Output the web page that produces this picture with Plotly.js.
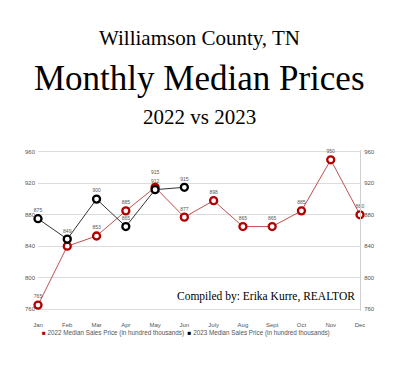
<!DOCTYPE html>
<html>
<head>
<meta charset="utf-8">
<script src="https://cdn.plot.ly/plotly-3.0.1.min.js"></script>
<style>html,body{margin:0;padding:0;background:#fff;}#chart{width:399px;height:371px;}</style>
</head>
<body>
<div id="chart"></div>
<script>
const months = ["Jan","Feb","Mar","Apr","May","Jun","July","Aug","Sept","Oct","Nov","Dec"];
const sales2022 = [765, 840, 853, 885, 915, 877, 898, 865, 865, 885, 950, 880];
const months2023 = ["Jan","Feb","Mar","Apr","May","Jun"];
const sales2023 = [875, 849, 900, 865, 912, 915];
const yTicks = [760, 800, 840, 880, 920, 960];
const legend2022 = "2022 Median Sales Price (in hundred thousands)";
const legend2023 = "2023 Median Sales Price (in hundred thousands)";

const serif = "Liberation Serif, Times New Roman, serif";
const sans = "Liberation Sans, Arial, sans-serif";

// May labels of both years are stacked; lift the 2022 one by an empty line
const text2022 = sales2022.map((v, i) => months[i] === "May" ? String(v) + "<br> " : String(v));

const t2022 = {
  x: months, y: sales2022, type: "scatter", mode: "lines+markers+text",
  text: text2022, textposition: "top center",
  textfont: {family: sans, size: 5, color: "#555"},
  line: {color: "#c0504d", width: 1},
  marker: {symbol: "circle", size: 7, color: "#fff", line: {color: "#b00000", width: 2.3}},
  cliponaxis: false, showlegend: false, hoverinfo: "skip"
};
const t2023 = {
  x: months2023, y: sales2023, type: "scatter", mode: "lines+markers+text",
  text: sales2023.map(String), textposition: "top center",
  textfont: {family: sans, size: 5, color: "#555"},
  line: {color: "#333", width: 1},
  marker: {symbol: "circle", size: 7, color: "#fff", line: {color: "#000", width: 2.3}},
  cliponaxis: false, showlegend: false, hoverinfo: "skip"
};
// invisible trace to activate the right-hand axis
const tRight = {
  x: months, y: sales2022, yaxis: "y2", type: "scatter", mode: "markers",
  marker: {opacity: 0}, showlegend: false, hoverinfo: "skip"
};

const yr = [757.5, 962.5];
const layout = {
  width: 399, height: 371,
  margin: {l: 38, r: 39, t: 150, b: 60, pad: 0},
  paper_bgcolor: "#fff", plot_bgcolor: "#fff",
  showlegend: false,
  xaxis: {
    type: "category", categoryarray: months, range: [0, 11],
    showgrid: false, zeroline: false, showline: false, ticks: "",
    tickfont: {family: sans, size: 6, color: "#555"}, ticklabelstandoff: 9
  },
  yaxis: {
    range: yr, tickvals: yTicks, showgrid: true, gridcolor: "#dcdcdc", gridwidth: 1,
    zeroline: false, showline: false, ticks: "",
    tickfont: {family: sans, size: 6, color: "#555"}, ticklabelstandoff: 2
  },
  yaxis2: {
    range: yr, tickvals: yTicks, overlaying: "y", side: "right",
    showgrid: false, zeroline: false, showline: true, linecolor: "#cfcfcf", linewidth: 1,
    ticks: "", tickfont: {family: sans, size: 6, color: "#555"}, ticklabelstandoff: 2
  },
  annotations: [
    {text: "Williamson County, TN", xref: "paper", yref: "paper", x: 0.5, y: 0, xanchor: "center", yanchor: "middle",
     showarrow: false, font: {family: serif, size: 21, color: "#000"}},
    {text: "Monthly Median Prices", xref: "paper", yref: "paper", x: 0.5, y: 0, xanchor: "center", yanchor: "middle",
     showarrow: false, font: {family: serif, size: 35, color: "#000"}},
    {text: "2022 vs 2023", xref: "paper", yref: "paper", x: 0.5, y: 0, xanchor: "center", yanchor: "middle",
     showarrow: false, font: {family: serif, size: 21, color: "#000"}},
    {text: "Compiled by: Erika Kurre, REALTOR", xref: "paper", yref: "paper", x: 0.5, y: 0, xanchor: "center", yanchor: "middle",
     showarrow: false, font: {family: serif, size: 11.5, color: "#000"}},
    {text: '<span style="color:#b00000">■</span> ' + legend2022 + '  <span style="color:#000">■</span> ' + legend2023,
     xref: "paper", yref: "paper", x: 0, y: 0, xanchor: "left", yanchor: "middle",
     showarrow: false, font: {family: sans, size: 6.3, color: "#555"}}
  ]
};

// position the header/footer texts in pixel terms relative to the plot area
const plotH = 371 - 150 - 60, plotL = 38, plotW = 399 - 38 - 39;
function py(pix) { return (371 - 60 - pix) / plotH; }
function px(pix) { return (pix - plotL) / plotW; }
layout.annotations[0].y = py(38);
layout.annotations[1].y = py(78);
layout.annotations[2].y = py(117);
layout.annotations[3].y = py(296); layout.annotations[3].x = px(266);
layout.annotations[4].y = py(333); layout.annotations[4].x = px(40);

Plotly.newPlot("chart", [t2022, t2023, tRight], layout, {staticPlot: true, displayModeBar: false});
</script>
</body>
</html>
